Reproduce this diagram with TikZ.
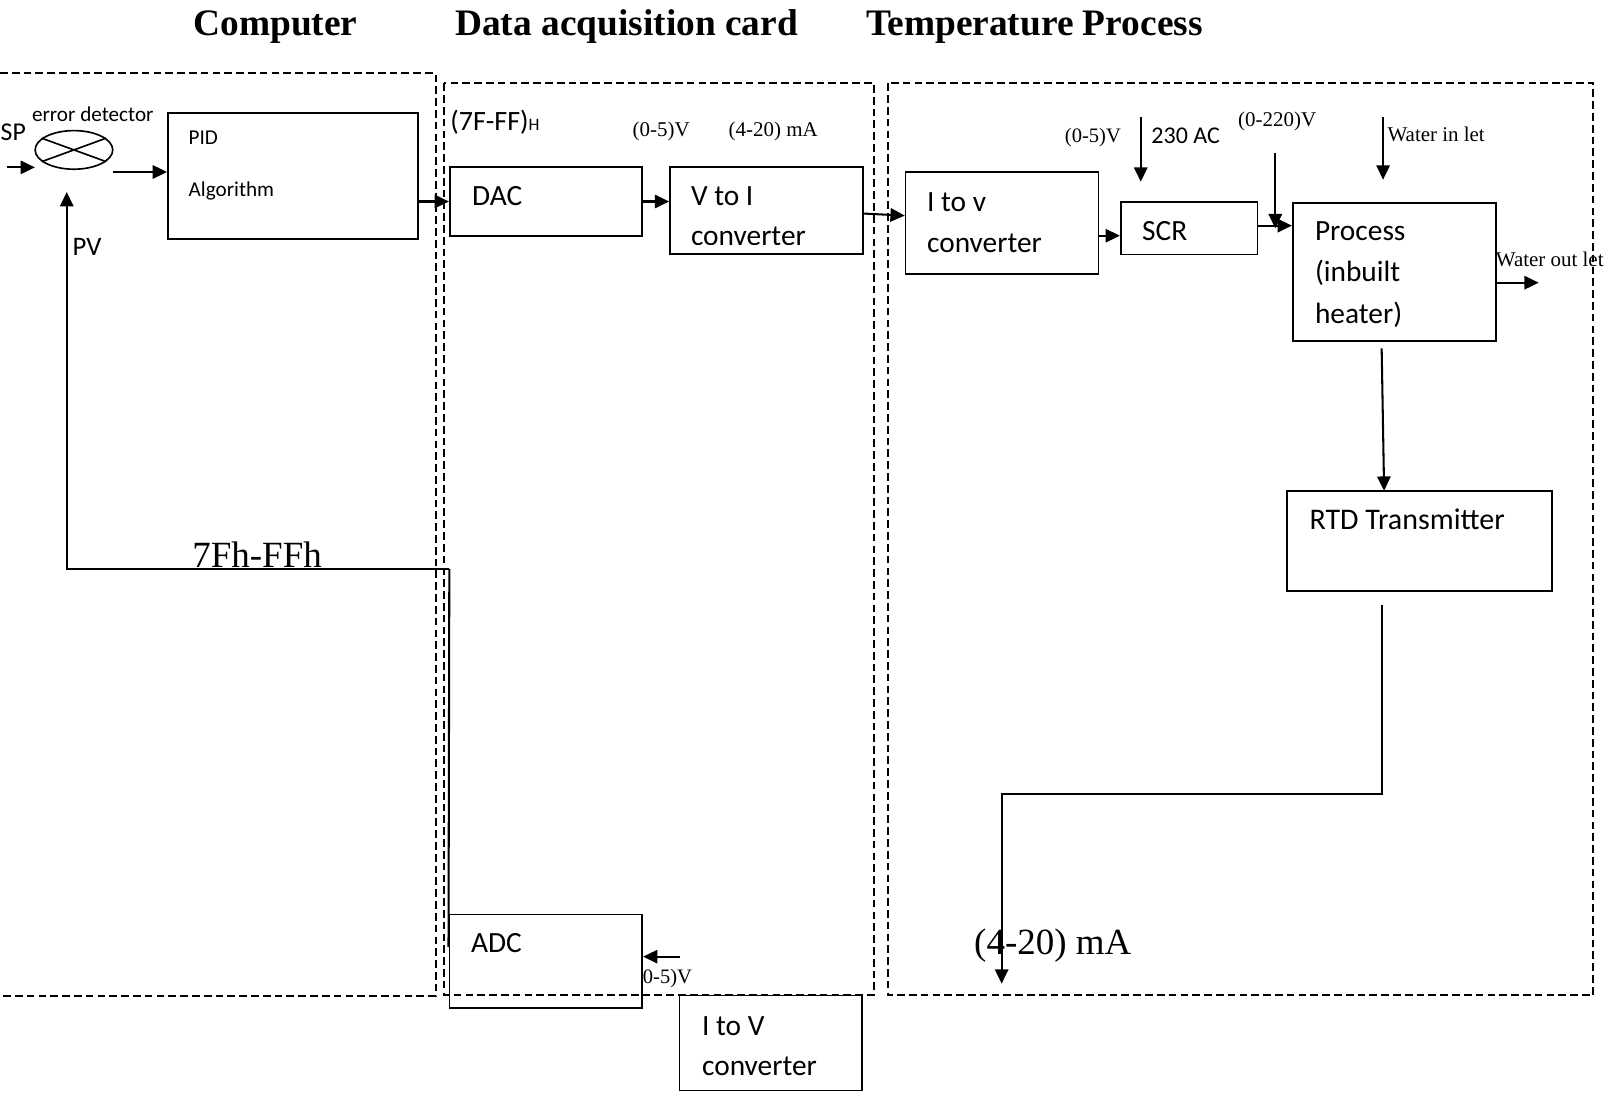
\documentclass[tikz,border=0pt]{standalone}
\usepackage{fontspec}
\setmainfont{Liberation Serif}
\newfontfamily\calfont{Carlito}
\usetikzlibrary{arrows.meta,fit,shapes.geometric}
\tikzset{
 blk/.style={draw, line width=0.8pt, inner sep=0pt},
 zone/.style={draw, line width=1pt, dash pattern=on 3.75pt off 2pt},
 arr/.style={line width=1pt, -{Triangle[length=7pt,width=6.5pt]}},
 wire/.style={line width=1pt},
 txt/.style={anchor=base west, inner sep=0pt},
 boxtxt/.style={txt, font=\calfont\fontsize{14.3}{16}\selectfont},
 smalltxt/.style={txt, font=\calfont\fontsize{10.3}{12}\selectfont},
 lbl/.style={txt, font=\fontsize{10.2}{12}\selectfont},
 bigtxt/.style={txt, font=\fontsize{18}{21}\selectfont},
 titletxt/.style={txt, font=\bfseries\fontsize{18.2}{21}\selectfont},
}
\begin{document}
\begin{tikzpicture}[x=0.5pt,y=-0.5pt]
\useasboundingbox (0,0) rectangle (1568,1064);

% ---- zones (dashed) ----
\draw[zone] (0,71.4) -- (424.3,71.4) -- (424.3,969.8) -- (0,969.8);
\draw[zone] (432.7,81.2) rectangle (851.2,969);
\draw[zone] (864.5,81.2) rectangle (1551.8,969);

% ---- titles ----
\node[titletxt] (tcomp) at (188,35) {Computer};
\node[titletxt] (tdaq) at (443,35) {Data acquisition card};
\node[titletxt] (ttemp) at (843,35) {Temperature Process};

% ---- blocks ----
\node[blk, fit={(163.5,110) (407,233)}] (pid) {};
\node[blk, fit={(438,162.5) (625,230)}] (dac) {};
\node[blk, fit={(652.5,162.5) (840.5,247.5)}] (vtoi) {};
\node[blk, fit={(882,167.8) (1070,267)}] (itov) {};
\node[blk, fit={(1091.5,197) (1224.8,247.7)}] (scr) {};
\node[blk, fit={(1259,197.4) (1457,331.8)}] (proc) {};
\node[blk, fit={(1253.7,478) (1511.8,575.3)}] (rtd) {};
\node[blk, fit={(437.6,890.5) (625.5,982)}] (adc) {};
\node[blk, fit={(661.6,969.6) (839.8,1062.2)}] (itovb) {};

% error detector
\node[draw, ellipse, line width=0.8pt, minimum width=37.8pt, minimum height=18.8pt, inner sep=0pt] (ed) at (72,146) {};
\draw[line width=0.8pt] (ed.20) -- (ed.200);
\draw[line width=0.8pt] (ed.160) -- (ed.340);

% ---- texts ----
\node[smalltxt] (edl) at (30.8,118.5) {error detector};
\node[txt, font=\calfont\fontsize{12.5}{14}\selectfont] (spl) at (0.3,137.3) {SP};
\node[smalltxt] (pid1) at (183.4,141.2) {PID};
\node[smalltxt] (pid2) at (183.4,191.5) {Algorithm};
\node[txt, font=\calfont\fontsize{13}{15}\selectfont] (pvl) at (70.4,249.3) {PV};
\node[bigtxt] (hexl) at (187,553) {7Fh-FFh};

\node[txt, font=\calfont\fontsize{13.6}{15}\selectfont] (hexin) at (438.3,127.3) {(7F-FF)\fontsize{8.5}{10}\selectfont H};
\node[lbl] (v05a) at (615.8,132.5) {(0-5)V};
\node[lbl] (ma1) at (709.3,132.5) {(4-20) mA};
\node[boxtxt] (dact) at (459.4,200.3) {DAC};
\node[boxtxt] (vtoit1) at (672.6,200.3) {V to I};
\begin{scope}
\clip (vtoi.north west) rectangle ([yshift=5.3pt]vtoi.south east);
\node[boxtxt] (vtoit2) at (672.6,239.5) {converter};
\end{scope}

\node[boxtxt] (itovt1) at (902.5,206.1) {I to v};
\node[boxtxt] (itovt2) at (902.5,245.7) {converter};
\node[lbl, font=\fontsize{10}{12}\selectfont] (v05b) at (1036.8,138.5) {(0-5)V};
\node[txt, font=\calfont\fontsize{11.7}{14}\selectfont] (acl) at (1121,140.2) {230 AC};
\node[lbl] (v220) at (1205.5,123.4) {(0-220)V};
\node[lbl] (wil) at (1351,138) {Water in let};
\node[boxtxt] (scrt) at (1112,234.7) {SCR};
\node[boxtxt] (proct1) at (1280.3,234.7) {Process};
\node[boxtxt] (proct2) at (1280.3,274.3) {(inbuilt};
\node[boxtxt] (proct3) at (1280.3,314.9) {heater)};
\node[lbl] (wol) at (1456.5,259.7) {Water out let};
\node[txt, font=\calfont\fontsize{14.6}{16}\selectfont] (rtdt) at (1275,515.5) {RTD Transmitter};
\node[bigtxt] (ma2) at (948.4,930) {(4-20) mA};

\node[boxtxt] (adct) at (458.4,927.8) {ADC};
\node[lbl, font=\fontsize{10}{12}\selectfont] (v05c) at (625.8,957.7) {0-5)V};
\node[boxtxt] (itovbt1) at (683.4,1008) {I to V};
\node[boxtxt] (itovbt2) at (683.4,1047.6) {converter};

% ---- connectors ----
\coordinate (spin) at (6.5,163);
\coordinate (spout) at (34,163);
\draw[arr] (spin) -- (spout);

\coordinate (eout) at (110,167.5);
\draw[arr] (eout) -- (eout -| pid.west);

\draw[arr] (pid.east |- dac.west) -- (dac.west);
\draw[arr] (dac.east) -- (vtoi.west |- dac.east);
\draw[arr] ([yshift=-1.5pt]vtoi.east) -- ([yshift=3.7pt]itov.west);

\coordinate (s1) at ([yshift=-3.6pt]scr.west);
\draw[arr] (s1 -| itov.east) -- (s1);
\coordinate (s2) at ([yshift=1.3pt]scr.east);
\draw[arr] (s2) -- (s2 -| proc.west);

\coordinate (va) at (1242,148.7);
\draw[arr] (va) -- (1242,222.4);

\coordinate (ac1) at (1111,114);
\coordinate (ac2) at (1111,177);
\draw[arr] (ac1) -- (ac2);

\coordinate (wi1) at (1347,114);
\coordinate (wi2) at (1347,175);
\draw[arr] (wi1) -- (wi2);

\coordinate (wo) at (1498.6,275.3);
\draw[arr] (wo -| proc.east) -- (wo);

\coordinate (p1) at (1345.6,339.2);
\coordinate (p2) at (1348,478);
\draw[arr] (p1) -- (p2);

\coordinate (r1) at (1345.6,589);
\coordinate (r2) at (975.5,958);
\draw[arr] (r1) -- (1345.6,773.6) -- (975.5,773.6) -- (r2);

\coordinate (fb1) at (437.6,554);
\coordinate (fb2) at (65,554);
\coordinate (pvtip) at (65,187);
\draw[wire] ([yshift=7pt]adc.west) -- (fb1);
\draw[arr] (fb1) -- (fb2) -- (pvtip);

\coordinate (ai) at (662,931.7);
\draw[arr] (ai) -- (ai -| adc.east);
\end{tikzpicture}
\end{document}
